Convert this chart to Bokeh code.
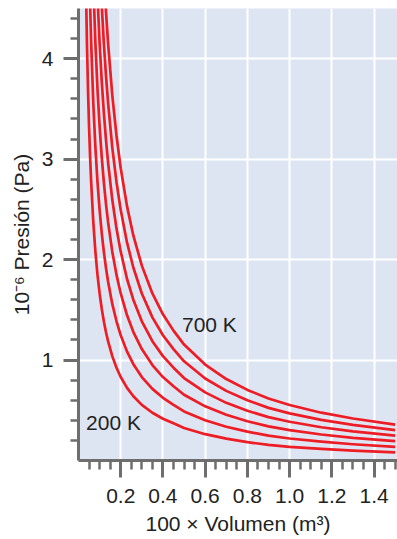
from bokeh.plotting import figure
from bokeh.models import FixedTicker, Range1d, PrintfTickFormatter
from bokeh.core.properties import value
from bokeh.embed import file_html
from bokeh.resources import INLINE

# Volume (x 100, m^3)
volume = [0.03, 0.035, 0.04, 0.045, 0.05, 0.055, 0.06, 0.07, 0.08, 0.09,
          0.10, 0.11, 0.12, 0.13, 0.14, 0.16, 0.18, 0.20, 0.23, 0.26,
          0.30, 0.35, 0.40, 0.45, 0.50, 0.60, 0.70, 0.80, 0.90, 1.00,
          1.15, 1.30, 1.50]

# Pressure (x 10^-6, Pa) read from each isotherm
p200 = [5.543, 4.751, 4.157, 3.695, 3.326, 3.023, 2.771, 2.375, 2.079, 1.848,
        1.663, 1.512, 1.386, 1.279, 1.188, 1.039, 0.924, 0.831, 0.723, 0.640,
        0.554, 0.475, 0.416, 0.370, 0.323, 0.262, 0.218, 0.183, 0.155, 0.136,
        0.115, 0.098, 0.081]
p300 = [8.314, 7.126, 6.236, 5.543, 4.988, 4.535, 4.157, 3.563, 3.118, 2.771,
        2.494, 2.267, 2.079, 1.919, 1.782, 1.559, 1.386, 1.247, 1.084, 0.959,
        0.831, 0.713, 0.624, 0.554, 0.489, 0.401, 0.336, 0.287, 0.247, 0.219,
        0.187, 0.162, 0.136]
p400 = [11.085, 9.502, 8.314, 7.390, 6.651, 6.047, 5.543, 4.751, 4.157, 3.695,
        3.326, 3.023, 2.771, 2.558, 2.375, 2.079, 1.848, 1.663, 1.446, 1.279,
        1.109, 0.950, 0.831, 0.739, 0.655, 0.539, 0.455, 0.391, 0.340, 0.303,
        0.259, 0.226, 0.192]
p500 = [13.857, 11.877, 10.393, 9.238, 8.314, 7.558, 6.928, 5.939, 5.196, 4.619,
        4.157, 3.779, 3.464, 3.198, 2.969, 2.598, 2.309, 2.079, 1.807, 1.599,
        1.386, 1.188, 1.039, 0.924, 0.821, 0.678, 0.574, 0.495, 0.432, 0.386,
        0.331, 0.290, 0.247]
p600 = [16.628, 14.253, 12.471, 11.085, 9.977, 9.070, 8.314, 7.126, 6.236, 5.543,
        4.988, 4.535, 4.157, 3.837, 3.563, 3.118, 2.771, 2.494, 2.169, 1.919,
        1.663, 1.425, 1.247, 1.109, 0.988, 0.816, 0.693, 0.599, 0.524, 0.469,
        0.404, 0.354, 0.303]
p700 = [19.399, 16.628, 14.550, 12.933, 11.640, 10.581, 9.700, 8.314, 7.275, 6.466,
        5.820, 5.291, 4.850, 4.477, 4.157, 3.637, 3.233, 2.910, 2.530, 2.238,
        1.940, 1.663, 1.455, 1.293, 1.154, 0.955, 0.811, 0.703, 0.617, 0.552,
        0.476, 0.418, 0.358]

x_ticks = [0.2, 0.4, 0.6, 0.8, 1.0, 1.2, 1.4]
y_ticks = [1, 2, 3, 4]

FONT = "Liberation Sans"
TEXT = "#222222"
AXIS = "#6e6e6e"
RED = "#ee1c25"

p = figure(width=397, height=539,
           x_range=Range1d(0, 1.511), y_range=Range1d(0, 4.5),
           output_backend="svg", toolbar_location=None,
           min_border_left=78, min_border_right=0,
           min_border_top=8, min_border_bottom=79)
p.background_fill_color = "#dde5f2"
p.border_fill_color = "white"
p.outline_line_color = None

for series in [p200, p300, p400, p500, p600, p700]:
    p.line(volume, series, line_color=RED, line_width=2.7, line_join="round")

p.text(x=[0.62], y=[1.353], text=["700 K"], text_align="center",
       text_baseline="middle", text_font=value(FONT), text_font_size="21px",
       text_color=TEXT)
p.text(x=[0.166], y=[0.378], text=["200 K"], text_align="center",
       text_baseline="middle", text_font=value(FONT), text_font_size="21px",
       text_color=TEXT)

x_minor = [round(0.05 * i, 2) for i in range(1, 31)]
y_minor = [round(0.2 * i, 1) for i in range(1, 23)]

p.xaxis.ticker = FixedTicker(ticks=x_ticks, minor_ticks=x_minor)
p.xaxis.formatter = PrintfTickFormatter(format="%.1f")
p.yaxis.ticker = FixedTicker(ticks=y_ticks, minor_ticks=y_minor)
p.xgrid.ticker = FixedTicker(ticks=x_ticks)
p.ygrid.ticker = FixedTicker(ticks=y_ticks)
for g in (p.xgrid, p.ygrid):
    g.grid_line_color = "white"
    g.grid_line_width = 2

for ax in (p.xaxis, p.yaxis):
    ax.axis_line_color = AXIS
    ax.axis_line_width = 3
    ax.major_tick_line_color = AXIS
    ax.major_tick_line_width = 3
    ax.minor_tick_line_color = AXIS
    ax.minor_tick_line_width = 2.5
    ax.major_tick_in = 0
    ax.minor_tick_in = 0
    ax.major_label_text_font = FONT
    ax.major_label_text_font_size = "21px"
    ax.major_label_text_color = TEXT
    ax.axis_label_text_font = FONT
    ax.axis_label_text_font_size = "21px"
    ax.axis_label_text_font_style = "normal"
    ax.axis_label_text_color = TEXT

p.xaxis.major_tick_out = 17
p.xaxis.minor_tick_out = 9
p.xaxis.major_label_standoff = 11
p.xaxis.axis_label_standoff = 6
p.xaxis.axis_label = "100 × Volumen (m³)"

p.yaxis.major_tick_out = 15
p.yaxis.minor_tick_out = 8
p.yaxis.major_label_standoff = 10
p.yaxis.axis_label_standoff = 6
p.yaxis.axis_label = "10⁻⁶ Presión (Pa)"

open("out.html", "w").write(file_html(p, INLINE))
